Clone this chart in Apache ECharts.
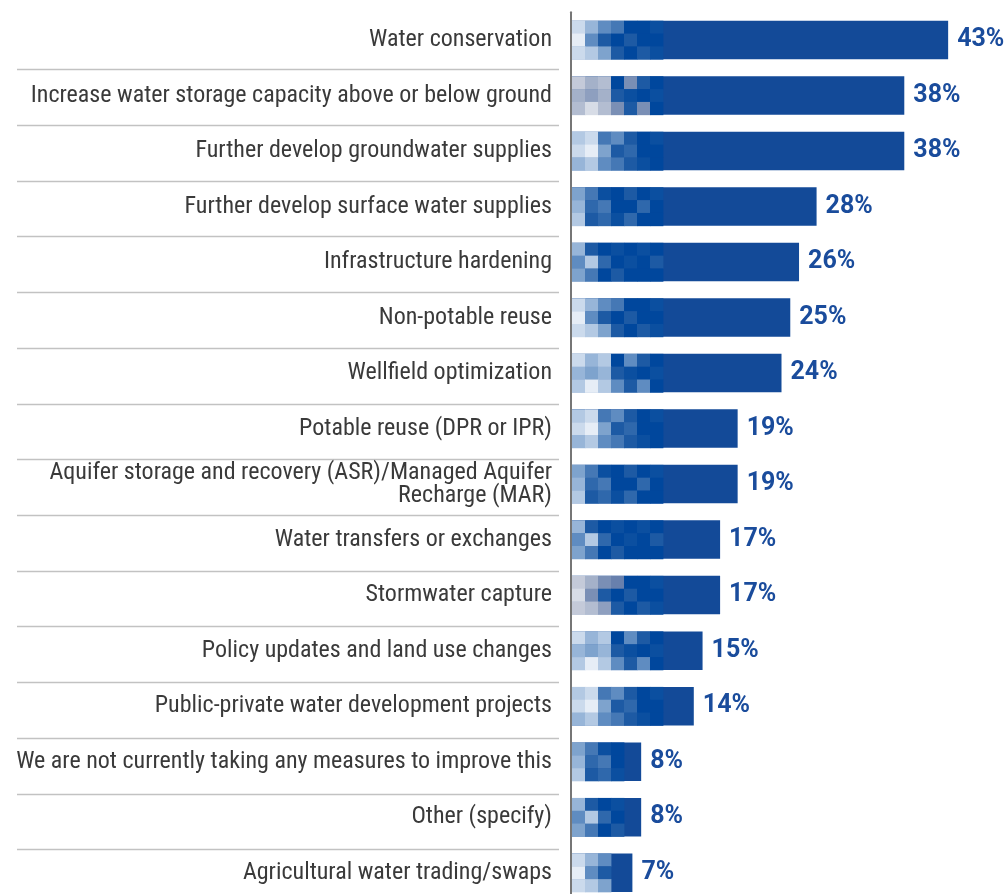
<!DOCTYPE html>
<html>
<head>
<meta charset="utf-8">
<script src="https://cdn.jsdelivr.net/npm/echarts@6/dist/echarts.min.js"></script>
<style>
  html, body { margin: 0; padding: 0; background: #ffffff; }
  #chart { width: 1008px; height: 894px; }
</style>
</head>
<body>
<div id="chart"></div>
<script>
// Measures taken to improve water supply (share of respondents, %)
const categories = [
  'Water conservation',
  'Increase water storage capacity above or below ground',
  'Further develop groundwater supplies',
  'Further develop surface water supplies',
  'Infrastructure hardening',
  'Non-potable reuse',
  'Wellfield optimization',
  'Potable reuse (DPR or IPR)',
  'Aquifer storage and recovery (ASR)/Managed Aquifer\nRecharge (MAR)',
  'Water transfers or exchanges',
  'Stormwater capture',
  'Policy updates and land use changes',
  'Public-private water development projects',
  'We are not currently taking any measures to improve this',
  'Other (specify)',
  'Agricultural water trading/swaps'
];
const values = [43, 38, 38, 28, 26, 25, 24, 19, 19, 17, 17, 15, 14, 8, 8, 7];

// Bar colour and the pixel-mosaic texture painted over the start of each bar
const BAR_BLUE = '#134a98';
const SHADES = ['#e6edf6', '#cbdaec', '#b3c9e3', '#97b5d8', '#7ea3cd', '#5f8cc1',
                '#4578b5', '#2f68ac', '#1d5aa4', '#0b4fa0', '#00479d'];
const MUTED_SHADES = ['#d7dce6', '#c4cad9', '#b3bdd1', '#a4b1c9', '#8e9fbf', '#7a8fb5', '#6880ad'];
const MUTED_ROWS = [1, 10];
const TILES = [
  [[1, 3, 5, 6, 10, 10, 9], [0, 5, 8, 10, 8, 10, 10], [1, 2, 4, 8, 10, 8, 9]],
  [[1, 3, 2, 10, 5, 8, 10], [3, 4, 3, 8, 9, 10, 9], [2, 0, 2, 5, 8, 5, 10]],
  [[2, 1, 6, 5, 8, 10, 9], [1, 0, 4, 8, 7, 10, 10], [3, 2, 5, 6, 8, 9, 10]],
  [[4, 6, 9, 10, 8, 10, 9], [3, 7, 6, 10, 10, 7, 10], [2, 8, 7, 9, 7, 10, 10]],
  [[3, 8, 10, 9, 10, 9, 10], [5, 2, 7, 10, 9, 10, 8], [4, 6, 10, 8, 10, 10, 10]]
];

const BAR_HEIGHT = 38.5;
const CELL = 13;

function shadeFor(row, level) {
  if (MUTED_ROWS.indexOf(row) >= 0 && level < MUTED_SHADES.length) return MUTED_SHADES[level];
  return SHADES[level];
}

function renderMosaic(params, api) {
  const idx = api.value(1);
  const v = api.value(0);
  const start = api.coord([0, idx]);
  const end = api.coord([v, idx]);
  const band = api.size([0, 1])[1];
  const top = start[1] - BAR_HEIGHT / 2;
  const x0 = start[0] + 1;
  const width = end[0] - x0;
  const cols = Math.max(0, Math.min(7, Math.floor((width - 17) / CELL)));
  const tile = TILES[idx % TILES.length];
  const rowH = BAR_HEIGHT / 3;
  const children = [];
  for (let r = 0; r < 3; r++) {
    for (let c = 0; c < cols; c++) {
      children.push({
        type: 'rect',
        shape: { x: x0 + c * CELL, y: top + r * rowH, width: CELL + 0.4, height: rowH + 0.4 },
        style: { fill: shadeFor(idx, tile[r][c]) },
        silent: true
      });
    }
  }
  // thin separator under each row label
  if (idx < categories.length - 1) {
    const y = Math.round(start[1] + band / 2 + 1.5 + idx * 0.2) + 0.5;
    children.push({
      type: 'line',
      shape: { x1: 17, y1: y, x2: 559, y2: y },
      style: { stroke: '#c2c2c2', lineWidth: 1.5 },
      silent: true
    });
  }
  return { type: 'group', children };
}

const chart = echarts.init(document.getElementById('chart'));
chart.setOption({
  animation: false,
  backgroundColor: '#ffffff',
  grid: {
    left: 571,
    right: 16,
    top: 12.24,
    height: 888.2,
    containLabel: false,
    outerBoundsMode: 'none'
  },
  xAxis: {
    type: 'value',
    min: 0,
    max: 48,
    show: false
  },
  yAxis: {
    type: 'category',
    data: categories,
    inverse: true,
    z: 5,
    axisLine: { show: true, lineStyle: { color: '#767676', width: 2 } },
    axisTick: { show: false },
    splitLine: { show: false },
    axisLabel: {
      margin: 19,
      fontSize: 24,
      lineHeight: 23,
      fontStyle: 'condensed',
      fontFamily: '"Roboto Condensed", Roboto, sans-serif',
      color: '#3a3a3a',
      align: 'right',
      padding: [8, 0, 0, 0]
    }
  },
  series: [
    {
      type: 'bar',
      data: values,
      barWidth: BAR_HEIGHT,
      itemStyle: { color: BAR_BLUE },
      label: {
        show: true,
        position: 'right',
        distance: 9,
        formatter: '{c}%',
        fontSize: 25,
        fontWeight: 'bold',
        fontFamily: 'Roboto, sans-serif',
        color: '#1a4c9c',
        padding: [3, 0, 0, 0]
      },
      silent: true,
      z: 2
    },
    {
      type: 'custom',
      data: values.map((v, i) => [v, i]),
      encode: { x: 0, y: 1 },
      renderItem: renderMosaic,
      clip: false,
      silent: true,
      z: 3
    }
  ]
});
</script>
</body>
</html>
